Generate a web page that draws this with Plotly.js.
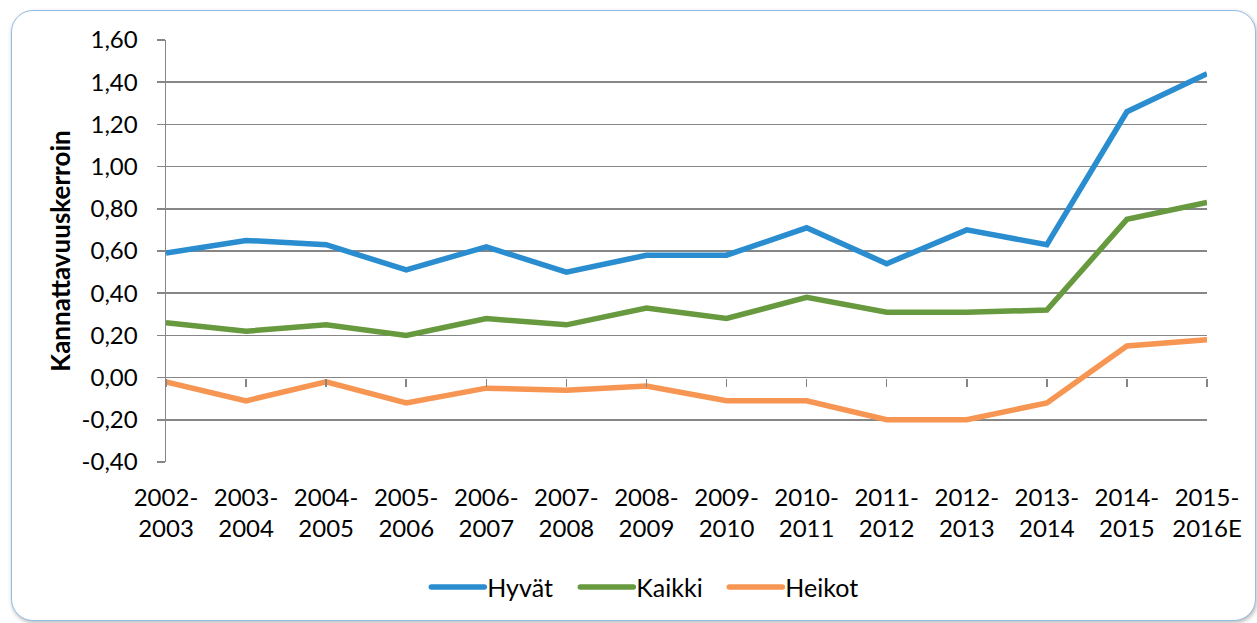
<!DOCTYPE html>
<html>
<head>
<meta charset="utf-8">
<script src="https://cdn.plot.ly/plotly-3.0.1.min.js"></script>
<style>
  html, body { margin: 0; padding: 0; background: #ffffff; width: 1257px; height: 623px; overflow: hidden; }
  #frame {
    position: absolute; left: 11px; top: 10px; width: 1243px; height: 609px;
    border: 1.5px solid #93bde3; border-radius: 22px;
    box-shadow: 1px 2px 4px rgba(0,0,0,0.28);
    background: #ffffff; overflow: hidden;
  }
  #chart { position: absolute; left: 0; top: 0; width: 1243px; height: 609px; }
</style>
</head>
<body>
<div id="frame"><div id="chart"></div></div>
<script>
const categories = ['2002-<br>2003','2003-<br>2004','2004-<br>2005','2005-<br>2006','2006-<br>2007',
  '2007-<br>2008','2008-<br>2009','2009-<br>2010','2010-<br>2011','2011-<br>2012',
  '2012-<br>2013','2013-<br>2014','2014-<br>2015','2015-<br>2016E'];
const hyvat  = [0.59, 0.65, 0.63, 0.51, 0.62, 0.50, 0.58, 0.58, 0.71, 0.54, 0.70, 0.63, 1.26, 1.44];
const kaikki = [0.26, 0.22, 0.25, 0.20, 0.28, 0.25, 0.33, 0.28, 0.38, 0.31, 0.31, 0.32, 0.75, 0.83];
const heikot = [-0.02, -0.11, -0.02, -0.12, -0.05, -0.06, -0.04, -0.11, -0.11, -0.20, -0.20, -0.12, 0.15, 0.18];
const yTickVals   = [-0.4, -0.2, 0, 0.2, 0.4, 0.6, 0.8, 1.0, 1.2, 1.4, 1.6];
const yTickLabels = ['-0,40','-0,20','0,00','0,20','0,40','0,60','0,80','1,00','1,20','1,40','1,60'];
const seriesNames = ['Hyvät', 'Kaikki', 'Heikot'];
const colors = ['#2a8dd0', '#67993e', '#f79552'];

const idx = categories.map((c, i) => i);
const FONT = 'Lato, "Open Sans", sans-serif';
const grid = '#868686';
const LEG_LINE = 53;

const traces = [hyvat, kaikki, heikot].map((vals, k) => ({
  type: 'scatter', mode: 'lines', name: seriesNames[k],
  x: idx, y: vals,
  line: { color: colors[k], width: 5.5 },
  hoverinfo: 'skip'
}));

const layout = {
  width: 1243, height: 609,
  margin: { l: 154, r: 48, t: 29, b: 158, autoexpand: false },
  paper_bgcolor: 'rgba(0,0,0,0)', plot_bgcolor: 'rgba(0,0,0,0)',
  font: { family: FONT, size: 24, color: '#000000' },
  showlegend: true,
  legend: {
    orientation: 'h', x: 0.459, xanchor: 'center', y: -0.297, yanchor: 'middle',
    font: { family: FONT, size: 25, color: '#000000' },
    itemwidth: LEG_LINE + 4, entrywidth: 77, tracegroupgap: 0
  },
  xaxis: {
    type: 'linear', range: [0, 13],
    tickmode: 'array', tickvals: idx, ticktext: categories,
    showgrid: false, zeroline: false, showline: false, ticks: '',
    ticklabelstandoff: 19,
    tickfont: { family: FONT, size: 24, color: '#000000' }
  },
  xaxis2: {
    type: 'linear', range: [0, 13], overlaying: 'x', anchor: 'free', position: 0.2,
    tickmode: 'array', tickvals: idx, showticklabels: false,
    ticks: 'outside', ticklen: 8, tickwidth: 1.5, tickcolor: grid,
    showgrid: false, zeroline: false, showline: false
  },
  yaxis: {
    range: [-0.4, 1.6], tickmode: 'array', tickvals: yTickVals, ticktext: yTickLabels,
    showgrid: true, gridcolor: grid, gridwidth: 1.5,
    zeroline: true, zerolinecolor: grid, zerolinewidth: 1.5,
    showline: true, linecolor: grid, linewidth: 1.5,
    ticks: 'outside', ticklen: 8, tickwidth: 1.5, tickcolor: grid,
    ticklabelstandoff: 14,
    tickfont: { family: FONT, size: 24, color: '#000000' },
    title: { text: 'Kannattavuuskerroin', font: { family: FONT, size: 26, color: '#000000', weight: 'bold' }, standoff: 3 }
  }
};

traces.push({ type: 'scatter', mode: 'none', x: idx, y: idx.map(() => null), xaxis: 'x2', showlegend: false, hoverinfo: 'skip' });

Plotly.newPlot('chart', traces, layout, { displayModeBar: false, staticPlot: true }).then(gd => {
  // lengthen legend line samples so they end just before the label text
  gd.querySelectorAll('.legend .traces').forEach(item => {
    const txt = item.querySelector('text.legendtext');
    const tx = txt ? parseFloat(txt.getAttribute('x')) || 40 : 40;
    item.querySelectorAll('.legendlines path').forEach(p => {
      p.setAttribute('d', 'M' + (tx - 3 - LEG_LINE) + ',0h' + LEG_LINE);
      p.style.strokeLinecap = 'round';
    });
  });
});
</script>
</body>
</html>
